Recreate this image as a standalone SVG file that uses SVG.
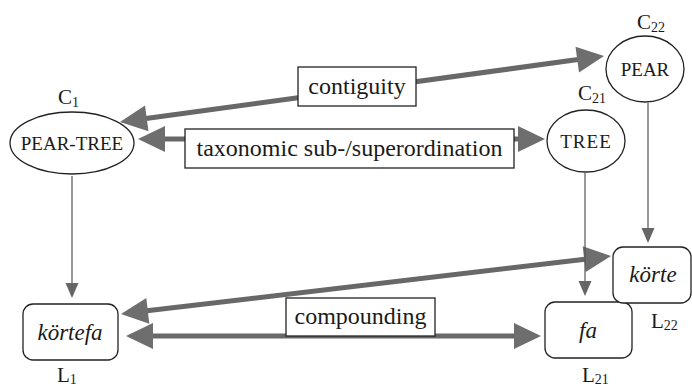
<svg xmlns="http://www.w3.org/2000/svg" width="692" height="390" viewBox="0 0 692 390">
<style>
text{font-family:"Liberation Serif","Times New Roman","DejaVu Serif",serif;fill:#1a1a1a}
.lbl{font-size:24px;text-anchor:middle}
.cap{font-size:19px;text-anchor:middle}
.word{font-size:23px;font-style:italic;text-anchor:middle}
.idx{font-size:21px}
.sub{font-size:14px}
.node{fill:#fff;stroke:#222;stroke-width:1.3}
.big{stroke:#686868;stroke-width:5;fill:none}
.head{fill:#6e6e6e}
.thin{stroke:#555;stroke-width:1.2;fill:none}
.shead{fill:#666}
.box{fill:#fff;stroke:#222;stroke-width:1.3}
</style>
<g id="connectors">
<line class="big" x1="146" y1="118.4" x2="578" y2="59.6"/>
<polygon class="head" points="120,122 148.5,131.2 145,105.5"/>
<polygon class="head" points="604,56 579,72.5 575.5,46.8"/>
<line class="big" x1="164" y1="139" x2="519" y2="139"/>
<polygon class="head" points="138,139 165,126 165,152"/>
<polygon class="head" points="545,139 518,126 518,152"/>
<line class="big" x1="147" y1="310.8" x2="585" y2="259.2"/>
<polygon class="head" points="121,314 149.3,323.7 146.3,297.9"/>
<polygon class="head" points="611,256 585.7,272.1 582.7,246.3"/>
<line class="big" x1="152" y1="336" x2="515" y2="336"/>
<polygon class="head" points="126,336 153,323 153,349"/>
<polygon class="head" points="541,336 514,323 514,349"/>
<line class="thin" x1="72" y1="176" x2="72" y2="284"/>
<polygon class="shead" points="65.5,283 78.5,283 72,298"/>
<line class="thin" x1="585" y1="173" x2="585" y2="282"/>
<polygon class="shead" points="578.5,281 591.5,281 585,296"/>
<line class="thin" x1="648" y1="103" x2="648" y2="229"/>
<polygon class="shead" points="641.5,228 654.5,228 648,243"/>
</g>
<g id="contiguity">
<rect class="box" x="298" y="67" width="118" height="39"/>
<text class="lbl" x="357" y="94">contiguity</text>
</g>
<g id="taxonomic">
<rect class="box" x="185" y="129" width="329" height="39"/>
<text class="lbl" x="349.5" y="156">taxonomic sub-/superordination</text>
</g>
<g id="compounding">
<rect class="box" x="286" y="298" width="149" height="38"/>
<text class="lbl" x="360.5" y="324">compounding</text>
</g>
<g id="C1">
<ellipse class="node" cx="72" cy="143" rx="62" ry="31"/>
<text class="cap" x="72" y="150">PEAR-TREE</text>
<text class="idx" x="58" y="104">C<tspan class="sub" dy="3">1</tspan></text>
</g>
<g id="C21">
<ellipse class="node" cx="586" cy="141" rx="39" ry="31"/>
<text class="cap" x="586" y="148" letter-spacing="1">TREE</text>
<text class="idx" x="578" y="100">C<tspan class="sub" dy="3">21</tspan></text>
</g>
<g id="C22">
<ellipse class="node" cx="645" cy="69" rx="39" ry="33"/>
<text class="cap" x="645" y="76">PEAR</text>
<text class="idx" x="637" y="29">C<tspan class="sub" dy="3">22</tspan></text>
</g>
<g id="L1">
<rect class="node" x="23" y="304" width="95" height="56" rx="10"/>
<text class="word" x="70" y="340">körtefa</text>
<text class="idx" x="57" y="382">L<tspan class="sub" dy="2">1</tspan></text>
</g>
<g id="L21">
<rect class="node" x="545" y="302" width="87" height="56" rx="10"/>
<text class="word" x="588" y="338">fa</text>
<text class="idx" x="582" y="382">L<tspan class="sub" dy="2">21</tspan></text>
</g>
<g id="L22">
<rect class="node" x="613" y="247" width="78" height="56" rx="10"/>
<text class="word" x="653" y="282">körte</text>
<text class="idx" x="651" y="328">L<tspan class="sub" dy="2">22</tspan></text>
</g>
</svg>
